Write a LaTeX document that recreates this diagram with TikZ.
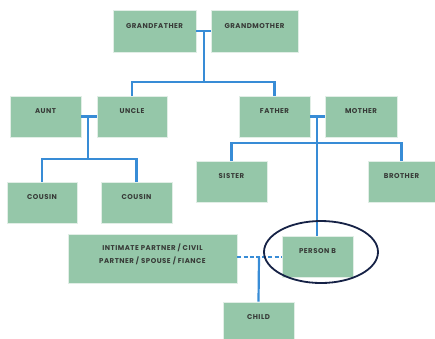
\documentclass[tikz,border=0pt]{standalone}
\usepackage{fontspec}
\setmainfont{Poppins}
\definecolor{boxfill}{RGB}{149,199,169}
\definecolor{boxline}{RGB}{225,238,230}
\definecolor{linkblue}{RGB}{56,140,214}
\definecolor{txt}{RGB}{55,58,55}
\definecolor{navy}{RGB}{22,34,70}
\begin{document}
\begin{tikzpicture}[x=1pt,y=-1pt,
  box/.style={draw=boxline, line width=0.8pt, fill=boxfill, inner sep=0pt},
  lbl/.style={font=\fontsize{7}{12.5}\selectfont\bfseries\addfontfeature{LetterSpace=7}, text=txt, align=center, inner sep=0pt},
  link/.style={draw=linkblue, line width=2.2pt},
  dlink/.style={draw=linkblue, line width=2.8pt, dash pattern=on 4pt off 2.2pt},
]
\useasboundingbox (0,0) rectangle (435,338);
\node[box, minimum width=83pt, minimum height=42pt, label={[lbl, yshift=5pt]center:GRANDFATHER}] (gf) at (154.5,31) {};
\node[box, minimum width=87pt, minimum height=42pt, label={[lbl, yshift=5pt]center:GRANDMOTHER}] (gm) at (254.5,31) {};
\node[box, minimum width=71pt, minimum height=41pt, label={[lbl, yshift=5pt]center:AUNT}] (aunt) at (45.5,116.5) {};
\node[box, minimum width=70pt, minimum height=41pt, label={[lbl, yshift=5pt]center:UNCLE}] (uncle) at (132,116.5) {};
\node[box, minimum width=71pt, minimum height=41pt, label={[lbl, yshift=5pt]center:FATHER}] (father) at (274.5,116.5) {};
\node[box, minimum width=72pt, minimum height=41pt, label={[lbl, yshift=5pt]center:MOTHER}] (mother) at (361,116.5) {};
\node[box, minimum width=70pt, minimum height=41pt, label={[lbl, yshift=5pt]center:COUSIN}] (c1) at (42,202.5) {};
\node[box, minimum width=71pt, minimum height=41pt, label={[lbl, yshift=5pt]center:COUSIN}] (c2) at (136.5,202.5) {};
\node[box, minimum width=71pt, minimum height=41pt, label={[lbl, yshift=5pt]center:SISTER}] (sister) at (231.5,181.5) {};
\node[box, minimum width=67pt, minimum height=41pt, label={[lbl, yshift=5pt]center:BROTHER}] (brother) at (401.5,181.5) {};
\node[box, minimum width=169pt, minimum height=49pt, label={[lbl, yshift=4pt]center:INTIMATE PARTNER / CIVIL\\PARTNER / SPOUSE / FIANCE}] (partner) at (152.5,258.5) {};
\node[box, minimum width=71pt, minimum height=41pt, label={[lbl, yshift=5pt]center:PERSON B}] (pb) at (317.5,256.5) {};
\node[box, minimum width=71pt, minimum height=41pt, label={[lbl, yshift=5pt]center:CHILD}] (child) at (258.5,322.5) {};
% junction coordinates
\coordinate (gj) at (204,31);
\coordinate (gbar) at (204,82);
\coordinate (auj) at (88,116.5);
\coordinate (aubar) at (88,159);
\coordinate (fmj) at (317,116.5);
\coordinate (fmbar) at (317,143);
\coordinate (pj) at (259,257);
% grandparents
\draw[link] (gf.east |- gj) -- (gm.west |- gj);
\draw[link] (gj) -- (gbar);
\draw[link] (uncle.north) -- (uncle.north |- gbar) -- (father.north |- gbar) -- (father.north);
% aunt/uncle
\draw[link] (aunt.east |- auj) -- (uncle.west |- auj);
\draw[link] (auj) -- (aubar);
\draw[link] (c1.north) -- (c1.north |- aubar) -- (c2.north |- aubar) -- (c2.north);
% father/mother
\draw[link] (father.east |- fmj) -- (mother.west |- fmj);
\draw[link] (fmj) -- (fmj |- pb.north);
\draw[link] (sister.north) -- (sister.north |- fmbar) -- (brother.north |- fmbar) -- (brother.north);
% partner
\draw[dlink] (partner.east |- pj) -- (pb.west |- pj);
\draw[link] (pj) -- (child.north);
% highlight
\draw[navy, line width=1.8pt] (321,252) ellipse [x radius=57pt, y radius=31pt];
\end{tikzpicture}
\end{document}
